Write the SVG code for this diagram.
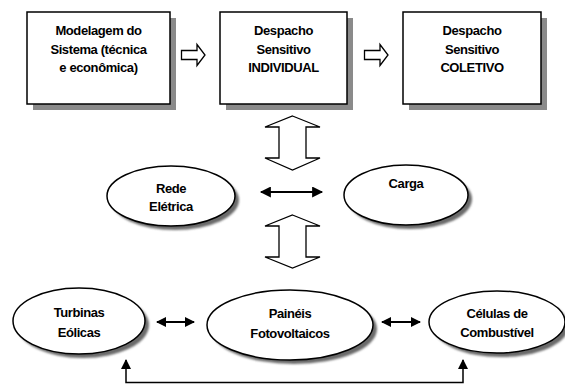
<svg xmlns="http://www.w3.org/2000/svg" width="565" height="385" viewBox="0 0 565 385">
<style>
.box{fill:#fff;stroke:#000;stroke-width:1.5}
.shadow{fill:#8a8a8a}
.eshadow{fill:#6a6a6a;filter:url(#blur)}
.ell{fill:#fff;stroke:#000;stroke-width:1.5}
.blk{fill:#fff;stroke:#000;stroke-width:1.3;stroke-linejoin:miter}
.t{font-family:"Liberation Sans",Arial,sans-serif;font-weight:bold;font-size:13px;text-anchor:middle;letter-spacing:-0.4px;fill:#000}
.ln{fill:none;stroke:#000}
</style>
<defs>
<filter id="blur" x="-20%" y="-20%" width="140%" height="140%"><feGaussianBlur stdDeviation="1.2"/></filter>
<marker id="ahL" viewBox="0 0 10 10" refX="9" refY="5" markerWidth="12" markerHeight="11" orient="auto-start-reverse" markerUnits="userSpaceOnUse"><path d="M0,0 L10,5 L0,10 z" fill="#000"/></marker>
<marker id="ahS" viewBox="0 0 10 10" refX="9" refY="5" markerWidth="10" markerHeight="10" orient="auto-start-reverse" markerUnits="userSpaceOnUse"><path d="M0,0 L10,5 L0,10 z" fill="#000"/></marker>
</defs>

<g id="modelagem">
<rect class="shadow" x="33" y="18" width="143" height="92"/>
<rect class="box" x="27" y="12" width="143" height="92"/>
<text class="t" x="98.5" y="35">Modelagem do</text>
<text class="t" x="98.5" y="53.5">Sistema (técnica</text>
<text class="t" x="98.5" y="72">e econômica)</text>
</g>

<g id="individual">
<rect class="shadow" x="226" y="18" width="127" height="92"/>
<rect class="box" x="220" y="12" width="127" height="92"/>
<text class="t" x="283.5" y="35">Despacho</text>
<text class="t" x="283.5" y="53.5">Sensitivo</text>
<text class="t" x="283.5" y="72">INDIVIDUAL</text>
</g>

<g id="coletivo">
<rect class="shadow" x="409" y="18" width="138" height="92"/>
<rect class="box" x="403" y="12" width="138" height="92"/>
<text class="t" x="472" y="35">Despacho</text>
<text class="t" x="472" y="53.5">Sensitivo</text>
<text class="t" x="472" y="72">COLETIVO</text>
</g>

<g id="rede">
<ellipse class="eshadow" cx="175" cy="200" rx="64" ry="30"/>
<ellipse class="ell" cx="171" cy="196" rx="64" ry="30"/>
<text class="t" x="171" y="192.5">Rede</text>
<text class="t" x="171" y="210.5">Elétrica</text>
</g>

<g id="carga">
<ellipse class="eshadow" cx="410" cy="199" rx="62" ry="30"/>
<ellipse class="ell" cx="406" cy="195" rx="62" ry="30"/>
<text class="t" x="406" y="187.5">Carga</text>
</g>

<g id="turbinas">
<ellipse class="eshadow" cx="83" cy="325" rx="66" ry="33"/>
<ellipse class="ell" cx="79" cy="321" rx="66" ry="33"/>
<text class="t" x="79" y="316.5">Turbinas</text>
<text class="t" x="79" y="336.5">Eólicas</text>
</g>

<g id="paineis">
<ellipse class="eshadow" cx="294" cy="329" rx="83" ry="35"/>
<ellipse class="ell" cx="290" cy="325" rx="83" ry="35"/>
<text class="t" x="290" y="317.5">Painéis</text>
<text class="t" x="290" y="337.5">Fotovoltaicos</text>
</g>

<g id="celulas">
<ellipse class="eshadow" cx="501" cy="326" rx="68" ry="31"/>
<ellipse class="ell" cx="497" cy="322" rx="68" ry="31"/>
<text class="t" x="497" y="317.5">Células de</text>
<text class="t" x="497" y="336.5">Combustível</text>
</g>

<g id="connectors">
<polygon class="blk" points="181.5,50.5 197,50.5 197,44.5 205,55 197,65.5 197,59.5 181.5,59.5"/>
<polygon class="blk" points="364.5,50.5 380,50.5 380,44.5 388,55 380,65.5 380,59.5 364.5,59.5"/>
<polygon class="blk" points="292.5,116 320,127 306,127 306,158 320,158 292.5,170 265,158 279,158 279,127 265,127"/>
<polygon class="blk" points="292.5,215 320,226 306,226 306,257 320,257 292.5,268 265,257 279,257 279,226 265,226"/>
<line class="ln" stroke-width="2" x1="261" y1="192" x2="322" y2="192" marker-start="url(#ahL)" marker-end="url(#ahL)"/>
<line class="ln" stroke-width="2" x1="157" y1="322" x2="194" y2="322" marker-start="url(#ahS)" marker-end="url(#ahS)"/>
<line class="ln" stroke-width="2" x1="382" y1="322" x2="420" y2="322" marker-start="url(#ahS)" marker-end="url(#ahS)"/>
<polyline class="ln" stroke-width="1.5" points="126,360 126,382.5 463,382.5 463,360" marker-start="url(#ahS)" marker-end="url(#ahS)"/>
</g>
</svg>
